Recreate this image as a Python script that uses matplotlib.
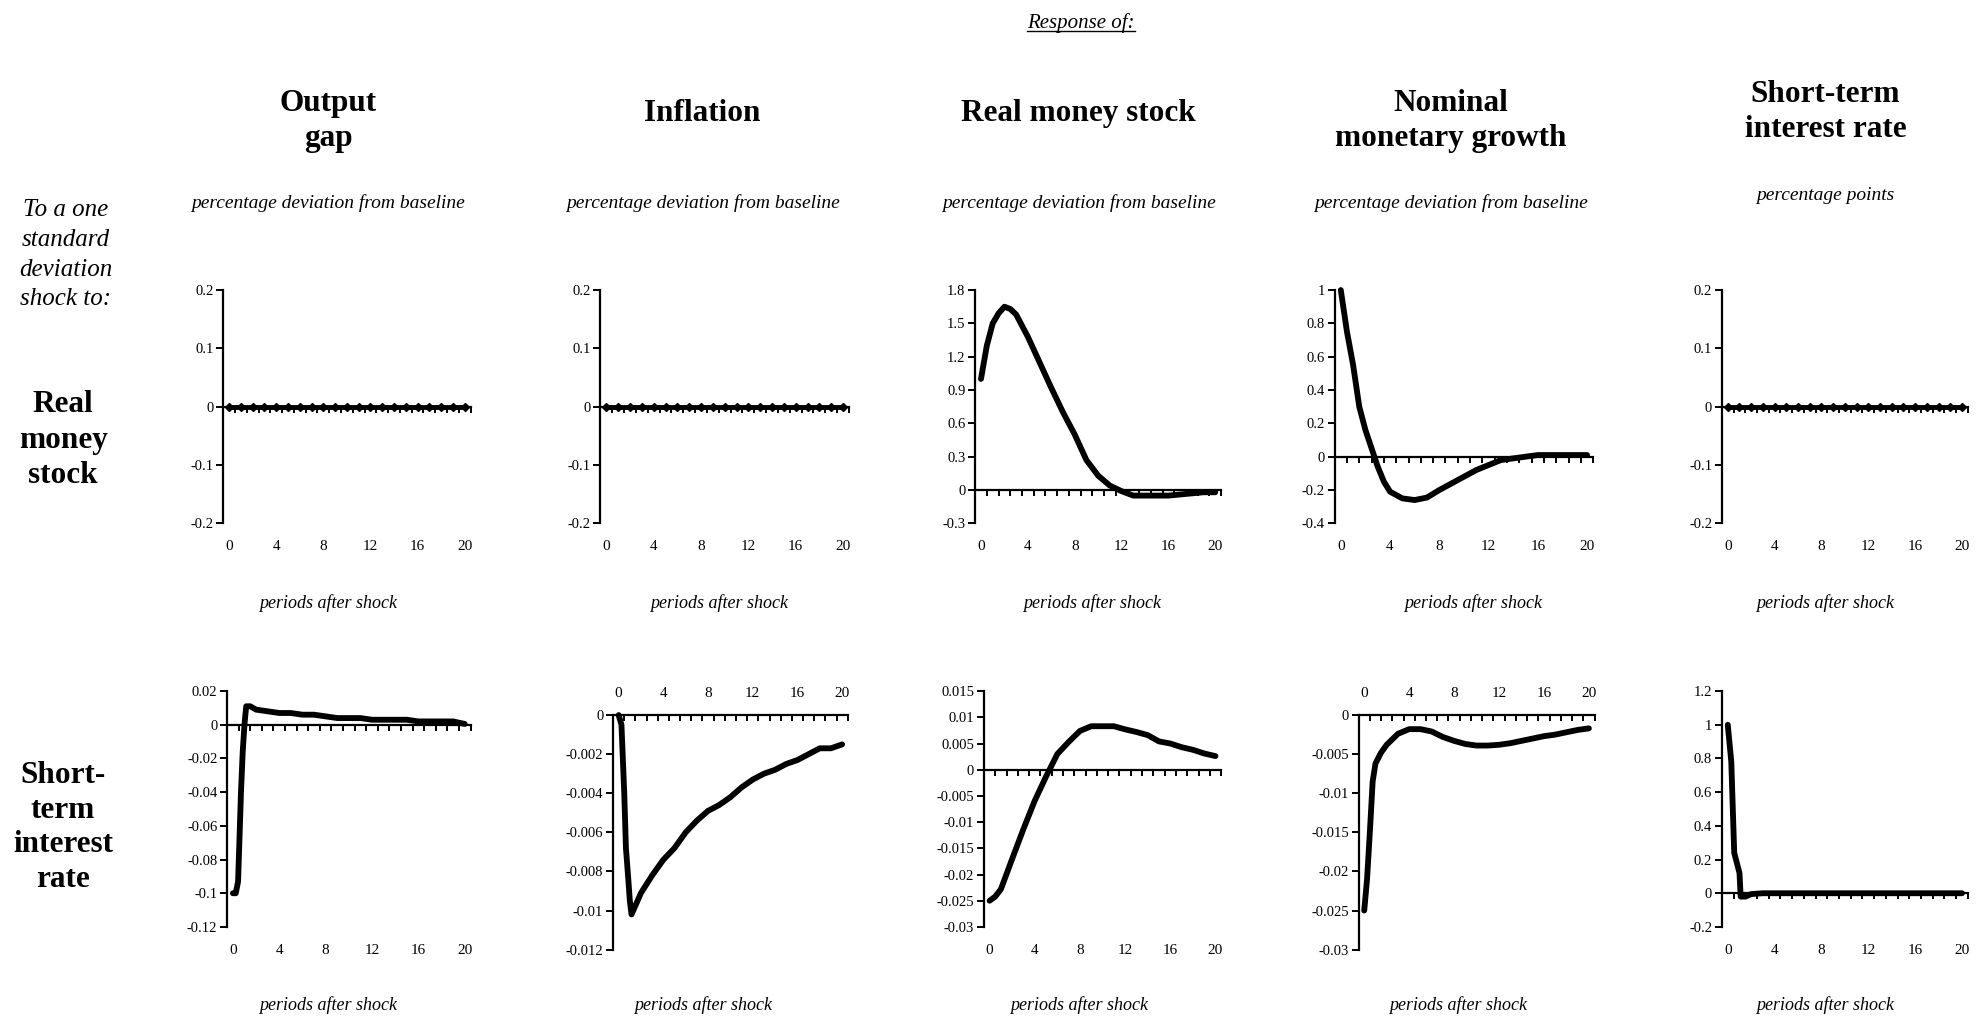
import numpy as np
import matplotlib
matplotlib.use("Agg")
import matplotlib.pyplot as plt
from matplotlib.lines import Line2D

plt.rcParams['font.family'] = 'Liberation Serif'

# =============================================================================
# Data
# =============================================================================
col_titles = ["Output\ngap", "Inflation", "Real money stock",
              "Nominal\nmonetary growth", "Short-term\ninterest rate"]
col_units  = ["percentage deviation from baseline"] * 4 + ["percentage points"]
row_titles = ["Real\nmoney\nstock", "Short-\nterm\ninterest\nrate"]
shock_note = "To a one\nstandard\ndeviation\nshock to:"
x_label    = "periods after shock"
x_ticks    = [0, 4, 8, 12, 16, 20]

periods   = [0, 1, 2, 3, 4, 5, 6, 7, 8, 9, 10, 11, 12, 13, 14, 15, 16, 17, 18, 19, 20]
flat_zero = [0, 0, 0, 0, 0, 0, 0, 0, 0, 0, 0, 0, 0, 0, 0, 0, 0, 0, 0, 0, 0]

# shock to real money stock -> real money stock
rm_money_x = [0, 0.5, 1, 1.5, 2, 2.5, 3, 4, 5, 6, 7, 8, 9, 10, 11, 12, 13, 14, 15, 16, 17, 18, 19, 20]
rm_money_y = [1.0, 1.3, 1.5, 1.59, 1.65, 1.63, 1.58, 1.38, 1.15, 0.92, 0.70, 0.50, 0.27, 0.13,
              0.04, -0.01, -0.05, -0.05, -0.05, -0.05, -0.04, -0.03, -0.02, -0.02]

# shock to real money stock -> nominal monetary growth
rm_growth_x = [0, 0.5, 1, 1.5, 2, 2.5, 3, 3.5, 4, 5, 6, 7, 8, 9, 10, 11, 12, 13, 14, 15, 16, 17, 18, 19, 20]
rm_growth_y = [1.0, 0.75, 0.55, 0.30, 0.16, 0.05, -0.06, -0.15, -0.21, -0.25, -0.26, -0.245, -0.20,
               -0.16, -0.12, -0.08, -0.05, -0.02, -0.01, 0.0, 0.01, 0.01, 0.01, 0.01, 0.01]

# shock to short-term rate -> output gap
ir_gap_x = [0, 0.25, 0.45, 0.55, 0.7, 0.85, 1.0, 1.15, 1.5, 2, 3, 4, 5, 6, 7, 8, 9, 10, 11, 12,
            13, 14, 15, 16, 17, 18, 19, 20]
ir_gap_y = [-0.1, -0.1, -0.093, -0.072, -0.04, -0.016, 0.0, 0.011, 0.011, 0.009, 0.008, 0.007,
            0.007, 0.006, 0.006, 0.005, 0.004, 0.004, 0.004, 0.003, 0.003, 0.003, 0.003, 0.002,
            0.002, 0.002, 0.002, 0.0005]

# shock to short-term rate -> inflation
ir_infl_x = [0, 0.25, 0.5, 0.65, 0.85, 1.0, 1.15, 2, 3, 4, 5, 6, 7, 8, 9, 10, 11, 12, 13, 14,
             15, 16, 17, 18, 19, 20]
ir_infl_y = [0.0, -0.0005, -0.004, -0.0068, -0.0083, -0.0095, -0.0102, -0.0091, -0.0082, -0.0074,
             -0.0068, -0.006, -0.0054, -0.0049, -0.0046, -0.0042, -0.0037, -0.0033, -0.003,
             -0.0028, -0.0025, -0.0023, -0.002, -0.0017, -0.0017, -0.0015]

# shock to short-term rate -> real money stock
ir_money_x = [0, 0.5, 1, 2, 3, 4, 5, 6, 7, 8, 9, 10, 11, 12, 13, 14, 15, 16, 17, 18, 19, 20]
ir_money_y = [-0.025, -0.0242, -0.0228, -0.017, -0.0113, -0.0059, -0.0013, 0.003, 0.0053, 0.0074,
              0.0083, 0.0083, 0.0083, 0.0077, 0.0072, 0.0066, 0.0054, 0.005, 0.0043, 0.0038,
              0.0031, 0.0026]

# shock to short-term rate -> nominal monetary growth
ir_growth_x = [0, 0.25, 0.5, 0.75, 1, 1.5, 2, 3, 4, 5, 6, 7, 8, 9, 10, 11, 12, 13, 14, 15, 16,
               17, 18, 19, 20]
ir_growth_y = [-0.025, -0.021, -0.015, -0.0085, -0.0062, -0.0048, -0.0038, -0.0024, -0.0018,
               -0.0018, -0.0021, -0.0028, -0.0033, -0.0037, -0.0039, -0.0039, -0.0038, -0.0036,
               -0.0033, -0.003, -0.0027, -0.0025, -0.0022, -0.0019, -0.0017]

# shock to short-term rate -> short-term rate
ir_rate_x = [0, 0.3, 0.55, 1.0, 1.1, 1.5, 2, 3, 4, 5, 6, 7, 8, 9, 10, 11, 12, 13, 14, 15,
             16, 17, 18, 19, 20]
ir_rate_y = [1.0, 0.78, 0.24, 0.12, -0.02, -0.02, -0.005, 0, 0, 0, 0, 0, 0, 0, 0, 0, 0, 0,
             0, 0, 0, 0, 0, 0, 0]

# y ranges / steps per panel
row1_ylims = [(-0.2, 0.2, 0.1), (-0.2, 0.2, 0.1), (-0.3, 1.8, 0.3), (-0.4, 1.0, 0.2), (-0.2, 0.2, 0.1)]
row2_ylims = [(-0.12, 0.02, 0.02), (-0.012, 0.0, 0.002), (-0.03, 0.015, 0.005),
              (-0.03, 0.0, 0.005), (-0.2, 1.2, 0.2)]

row1_series = [(periods, flat_zero, True), (periods, flat_zero, True), (rm_money_x, rm_money_y, False),
               (rm_growth_x, rm_growth_y, False), (periods, flat_zero, True)]
row2_series = [(ir_gap_x, ir_gap_y, False), (ir_infl_x, ir_infl_y, False),
               (ir_money_x, ir_money_y, False), (ir_growth_x, ir_growth_y, False),
               (ir_rate_x, ir_rate_y, False)]

# =============================================================================
# Layout (in reference pixels of a 1568 x 808 view)
# =============================================================================
W, H = 1568.0, 808.0
row1_boxes = [(177, 373, 230, 415), (476, 673, 230, 415), (773, 968, 230, 415),
              (1058, 1263, 230, 415), (1365, 1560, 230, 415)]
row2_boxes = [(180, 373, 548, 735), (486, 672, 567, 753), (780, 968, 548, 735),
              (1077, 1264, 567, 753), (1365, 1560, 548, 735)]
col_centres = [260, 557, 855, 1150, 1447]
xlab_centres = [[260, 570, 866, 1168, 1447], [260, 557, 855, 1156, 1447]]


def fx(x):
    return x / W


def fy(y):
    return 1 - y / H


fig = plt.figure(figsize=(19.78, 10.19), dpi=100)
fig.patch.set_facecolor('white')


def fmt(v, _pos=None):
    v = round(v, 6)
    if abs(v) < 1e-12:
        return "0"
    return "{:g}".format(v)


def make_panel(box, ylim, series):
    x0, x1, yt, yb = box
    ax = fig.add_axes([fx(x0), fy(yb), fx(x1) - fx(x0), fy(yt) - fy(yb)])
    lo, hi, step = ylim
    ax.set_xlim(-0.5, 20.5)
    ax.set_ylim(lo, hi)
    ax.set_yticks(np.arange(lo, hi + step / 2, step))
    ax.yaxis.set_major_formatter(plt.FuncFormatter(fmt))
    ax.tick_params(axis='y', direction='out', length=5, width=1.4, labelsize=10.5, pad=2)

    for s in ['top', 'right']:
        ax.spines[s].set_visible(False)
    ax.spines['left'].set_linewidth(1.6)
    ax.spines['bottom'].set_position(('data', 0))
    ax.spines['bottom'].set_linewidth(1.6)

    ax.set_xticks([])
    ax.set_xticks(np.arange(-0.5, 21, 1), minor=True)
    ax.tick_params(axis='x', which='minor', direction='out', length=4.5, width=1.4)

    # category labels sit at the low edge (or above when the axis is at the top)
    loc = 'top' if hi == 0 else 'bottom'
    sec = ax.secondary_xaxis(loc)
    sec.set_xticks(x_ticks)
    for s in sec.spines.values():
        s.set_visible(False)
    sec.tick_params(length=0, labelsize=11, pad=12 if loc == 'bottom' else 11)

    xs, ys, flat = series
    if flat:
        ax.plot(xs, ys, color='black', lw=3.5, marker='D', ms=4,
                solid_capstyle='round', zorder=3, clip_on=False)
    else:
        ax.plot(xs, ys, color='black', lw=4.2, solid_capstyle='round',
                solid_joinstyle='round', zorder=3, clip_on=False)
    ax.patch.set_alpha(0)
    return ax


for box, yl, ser in zip(row1_boxes, row1_ylims, row1_series):
    make_panel(box, yl, ser)
for box, yl, ser in zip(row2_boxes, row2_ylims, row2_series):
    make_panel(box, yl, ser)

# Column headers
title_y = [96, 90, 90, 96, 89]
for cx, ty, t in zip(col_centres, title_y, col_titles):
    fig.text(fx(cx), fy(ty), t, ha='center', va='center', fontsize=22.5,
             fontweight='bold', linespacing=1.25)
unit_y = [161, 161, 161, 161, 155]
for cx, uy, u in zip(col_centres, unit_y, col_units):
    fig.text(fx(cx), fy(uy), u, ha='center', va='center', fontsize=14, style='italic')

# x labels under each panel
for ly, centres in zip([478, 797], xlab_centres):
    for cx in centres:
        fig.text(fx(cx), fy(ly), x_label, ha='center', va='center', fontsize=13, style='italic')

# Row headers
fig.text(fx(52), fy(202), shock_note, ha='center', va='center', fontsize=18,
         style='italic', linespacing=1.45)
fig.text(fx(50), fy(349), row_titles[0], ha='center', va='center', fontsize=22.5,
         fontweight='bold', linespacing=1.3)
fig.text(fx(50), fy(656), row_titles[1], ha='center', va='center', fontsize=22.5,
         fontweight='bold', linespacing=1.25)

# Super heading, underlined
resp = fig.text(fx(857), fy(18), "Response of:", ha='center', va='center',
                fontsize=15, style='italic')
fig.canvas.draw()
bb = resp.get_window_extent().transformed(fig.transFigure.inverted())
fig.add_artist(Line2D([bb.x0, bb.x1], [bb.y0 + 0.002, bb.y0 + 0.002],
                      transform=fig.transFigure, color='black', lw=1))

fig.savefig("out.png", dpi=100)
